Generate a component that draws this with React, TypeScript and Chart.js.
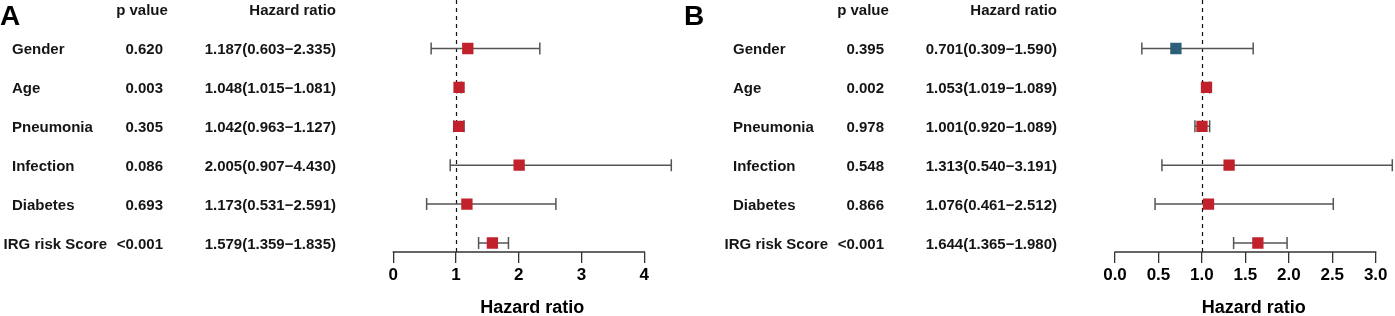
import React, { useEffect, useRef } from "react";
import { Chart, registerables } from "chart.js";

Chart.register(...registerables);

const variables = ["Gender", "Age", "Pneumonia", "Infection", "Diabetes", "IRG risk Score"];

const pValuesA = ["0.620", "0.003", "0.305", "0.086", "0.693", "<0.001"];
const hrA = [1.187, 1.048, 1.042, 2.005, 1.173, 1.579];
const lowA = [0.603, 1.015, 0.963, 0.907, 0.531, 1.359];
const highA = [2.335, 1.081, 1.127, 4.43, 2.591, 1.835];
const ticksA = [0, 1, 2, 3, 4];
const tickLabelsA = ["0", "1", "2", "3", "4"];

const pValuesB = ["0.395", "0.002", "0.978", "0.548", "0.866", "<0.001"];
const hrB = [0.701, 1.053, 1.001, 1.313, 1.076, 1.644];
const lowB = [0.309, 1.019, 0.92, 0.54, 0.461, 1.365];
const highB = [1.59, 1.089, 1.089, 3.191, 2.512, 1.98];
const ticksB = [0, 0.5, 1, 1.5, 2, 2.5, 3];
const tickLabelsB = ["0.0", "0.5", "1.0", "1.5", "2.0", "2.5", "3.0"];

const FONT = '"Liberation Sans", Arial, Helvetica, sans-serif';
const RED = "#C0212B";
const BLUE = "#2C6079";
const BAR = "#555555";
const AXIS = "#333333";
const TEXT = "#151515";

type PanelProps = {
  letter: string;
  pValues: string[];
  hr: number[];
  low: number[];
  high: number[];
  ticks: number[];
  tickLabels: string[];
  width: number;
  padLeft: number;
  padRight: number;
  textOffset: number;
  letterX: number;
  left: number;
};

function Panel(p: PanelProps) {
  const ref = useRef<HTMLCanvasElement | null>(null);
  useEffect(() => {
    if (!ref.current) return;
    const xMax = Math.max(...p.high);
    const hrText = p.hr.map(
      (v, i) => `${v.toFixed(3)}(${p.low[i].toFixed(3)}\u2212${p.high[i].toFixed(3)})`
    );
    const forestPlugin = {
      id: "forest",
      beforeDatasetsDraw(chart: any) {
        const ctx = chart.ctx;
        const xs = chart.scales.x;
        const ys = chart.scales.y;
        const area = chart.chartArea;
        ctx.save();
        // reference line at 1
        ctx.strokeStyle = "#111";
        ctx.lineWidth = 1.2;
        ctx.setLineDash([4, 4]);
        const x1 = Math.round(xs.getPixelForValue(1)) + 0.5;
        ctx.beginPath();
        ctx.moveTo(x1, area.top);
        ctx.lineTo(x1, area.bottom);
        ctx.stroke();
        ctx.setLineDash([]);
        // error bars
        ctx.strokeStyle = BAR;
        ctx.lineWidth = 1.5;
        for (let i = 0; i < p.hr.length; i++) {
          const y = ys.getPixelForValue(i);
          const a = xs.getPixelForValue(p.low[i]);
          const b = xs.getPixelForValue(p.high[i]);
          ctx.beginPath();
          ctx.moveTo(a, y);
          ctx.lineTo(b, y);
          ctx.moveTo(a, y - 6);
          ctx.lineTo(a, y + 6);
          ctx.moveTo(b, y - 6);
          ctx.lineTo(b, y + 6);
          ctx.stroke();
        }
        // axis line
        ctx.strokeStyle = AXIS;
        ctx.lineWidth = 1.3;
        ctx.beginPath();
        const yb = area.bottom;
        ctx.moveTo(xs.getPixelForValue(p.ticks[0]) - 0.65, yb);
        ctx.lineTo(xs.getPixelForValue(p.ticks[p.ticks.length - 1]) + 0.65, yb);
        ctx.stroke();
        ctx.restore();
      },
      afterDraw(chart: any) {
        const ctx = chart.ctx;
        const ys = chart.scales.y;
        const o = p.textOffset;
        ctx.save();
        ctx.fillStyle = "#000";
        ctx.font = `bold 28px ${FONT}`;
        ctx.textAlign = "left";
        ctx.textBaseline = "alphabetic";
        ctx.fillText(p.letter, p.letterX, 25);
        ctx.fillStyle = TEXT;
        ctx.font = `bold 15px ${FONT}`;
        ctx.textBaseline = "middle";
        const yh = ys.getPixelForValue(-1) + 1;
        ctx.textAlign = "center";
        ctx.fillText("p value", 142 + o, yh);
        ctx.textAlign = "right";
        ctx.fillText("Hazard ratio", 336 + o, yh);
        for (let i = 0; i < variables.length; i++) {
          const y = ys.getPixelForValue(i) + 1.5;
          ctx.textAlign = "left";
          const w = ctx.measureText(variables[i]).width;
          ctx.fillText(variables[i], Math.min(12, 107 - w) + o, y);
          ctx.textAlign = "right";
          ctx.fillText(p.pValues[i], 163 + o, y);
          ctx.fillText(hrText[i], 336 + o, y);
        }
        ctx.restore();
      },
    };
    const chart = new Chart(ref.current, {
      type: "scatter",
      data: {
        datasets: [
          {
            data: p.hr.map((v, i) => ({ x: v, y: i })),
            pointStyle: "rect",
            pointRadius: 8,
            pointHoverRadius: 8,
            borderWidth: 0,
            backgroundColor: p.hr.map((v) => (v < 1 ? BLUE : RED)),
          },
        ],
      },
      options: {
        animation: false,
        responsive: false,
        devicePixelRatio: 1,
        layout: { autoPadding: false, padding: { left: p.padLeft, right: p.padRight, top: 0, bottom: 0 } },
        plugins: { legend: { display: false }, tooltip: { enabled: false } },
        events: [],
        scales: {
          y: {
            type: "linear",
            display: false,
            reverse: true,
            min: -1.247,
            max: 5.231,
          },
          x: {
            type: "linear",
            min: 0,
            max: xMax,
            afterBuildTicks: (scale: any) => {
              scale.ticks = p.ticks.map((v) => ({ value: v }));
            },
            border: { display: false },
            grid: {
              display: true,
              drawOnChartArea: false,
              drawTicks: true,
              tickLength: 11,
              color: AXIS,
              lineWidth: 1.3,
            },
            ticks: {
              padding: 2,
              color: "#000",
              font: { family: FONT, size: 17, weight: "bold" },
              maxRotation: 0,
              autoSkip: false,
              callback: (v: any) => {
                const idx = p.ticks.indexOf(Number(v));
                return idx >= 0 ? p.tickLabels[idx] : "";
              },
            },
            title: {
              display: true,
              text: "Hazard ratio",
              color: "#000",
              font: { family: FONT, size: 18, weight: "bold", lineHeight: 1 },
              padding: { top: 12.1, bottom: -1.5 },
            },
          },
        },
      },
      plugins: [forestPlugin],
    } as any);
    return () => chart.destroy();
  }, []);
  return (
    <canvas
      ref={ref}
      width={p.width}
      height={316}
      style={{ position: "absolute", left: p.left, top: 0, width: p.width, height: 316, display: "block" }}
    />
  );
}

export default function App() {
  return (
    <div style={{ position: "absolute", left: 0, top: 0, width: 1395, height: 316, background: "#fff" }}>
      <Panel
        letter="A"
        pValues={pValuesA}
        hr={hrA}
        low={lowA}
        high={highA}
        ticks={ticksA}
        tickLabels={tickLabelsA}
        width={680}
        padLeft={393.3}
        padRight={8.7}
        textOffset={0}
        letterX={0}
        left={0}
      />
      <Panel
        letter="B"
        pValues={pValuesB}
        hr={hrB}
        low={lowB}
        high={highB}
        ticks={ticksB}
        tickLabels={tickLabelsB}
        width={715}
        padLeft={435}
        padRight={2.7}
        textOffset={41}
        letterX={4}
        left={680}
      />
    </div>
  );
}
